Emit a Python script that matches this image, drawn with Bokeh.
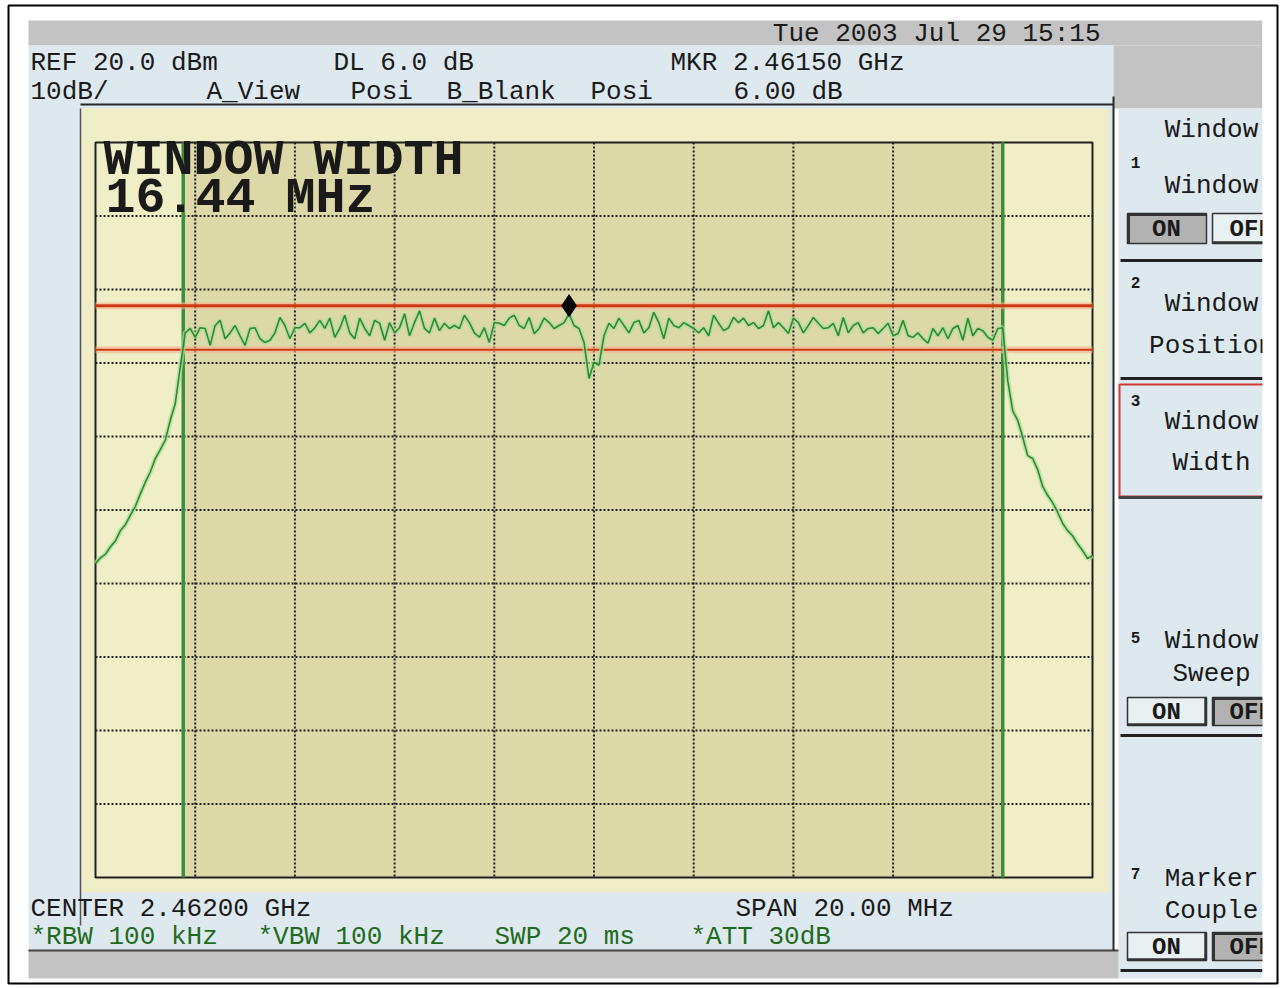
from bokeh.plotting import figure
from bokeh.models import Range1d
from bokeh.core.properties import value
from bokeh.embed import file_html
from bokeh.resources import INLINE

timestamp = "Tue 2003 Jul 29 15:15"
center_ghz = 2.46200
span_mhz = 20.00
ref_dbm = 20.0
db_per_div = 10
divisions = 10
display_line_dbm = -2.2
display_line_offset_db = 6.0
marker_ghz = 2.46150
marker_dbm = -2.2
marker_delta_db = 6.00
window_center_ghz = 2.46198
window_width_mhz = 16.44
rbw_khz = 100
vbw_khz = 100
sweep_ms = 20
atten_db = 30
trace_step_mhz = 0.1
trace_dbm = [
    -37.3, -36.5, -36.0, -35.0, -34.2, -32.8, -32.0, -30.7, -29.5, -27.8,
    -26.2, -24.8, -23.0, -21.8, -20.5, -17.8, -15.5, -10.6,
    -5.9, -5.3, -6.5, -5.2, -5.3, -7.6, -4.9, -4.2, -6.7, -5.9, -4.9, -6.3,
    -7.6, -5.3, -5.2, -6.7, -7.2, -6.9, -5.9, -3.8, -4.9, -6.7, -5.2, -5.2,
    -4.6, -5.9, -5.2, -4.2, -5.3, -3.9, -6.5, -5.3, -3.5, -5.9, -6.7, -3.9,
    -5.3, -6.3, -4.2, -4.6, -6.9, -4.5, -5.9, -5.2, -3.3, -6.3, -4.5, -2.9,
    -5.3, -5.9, -3.9, -5.6, -4.6, -5.3, -4.9,
    -5.3, -3.5, -4.5, -5.9, -6.5, -5.2, -7.2, -4.5, -4.6, -4.9, -3.9, -3.5,
    -4.9, -5.3, -3.8, -6.0, -5.3, -3.9, -4.5, -5.3, -4.9, -4.5, -3.3, -4.9,
    -5.3, -7.2, -12.1, -9.9, -10.3, -6.3, -4.6, -5.3, -3.9, -4.9, -5.9, -4.5,
    -4.2, -5.9, -5.2, -3.1, -4.5, -6.7, -3.9, -4.9, -5.2, -4.5, -4.9, -5.3,
    -5.9, -5.2, -6.3, -3.5, -4.6, -5.6,
    -5.2, -3.8, -4.5, -3.9, -4.9, -4.5, -5.3, -4.9, -2.9, -5.2, -4.5, -5.2,
    -6.0, -3.9, -4.5, -5.9, -4.9, -3.8, -4.6, -5.3, -5.2, -4.6, -6.3, -3.8,
    -5.9, -4.9, -4.5, -5.9, -5.3, -5.2, -6.0, -5.3, -4.6, -6.3, -6.0, -4.2,
    -6.3, -6.5, -5.9, -6.7, -7.3, -5.3, -6.3, -5.2, -6.7, -5.3, -4.9, -6.9,
    -3.9, -6.3, -5.3, -5.6, -6.5, -6.9, -5.3,
    -5.2, -12.4, -16.5, -17.8, -20.1, -22.6, -23.0, -24.5, -26.8, -28.0,
    -29.0, -30.3, -31.8, -32.8, -33.5, -34.6, -35.5, -36.6, -36.2,
]

# ---------------- layout (page pixels) ----------------
W, H = 1282, 986
X0, Y0 = 0, 0
GX0, GX1, GY0, GY1 = 95, 1092, 142, 877   # graticule box

span_ghz = span_mhz / 1000.0
f_start = center_ghz - span_ghz / 2
f_stop = center_ghz + span_ghz / 2
ghz_per_px = span_ghz / (GX1 - GX0)
bottom_dbm = ref_dbm - db_per_div * divisions
db_per_px = (db_per_div * divisions) / (GY1 - GY0)

p = figure(width=W, height=H, output_backend="svg", toolbar_location=None,
           x_range=Range1d(X0, X0 + W), y_range=Range1d(Y0 + H, Y0),
           x_axis_location=None, y_axis_location=None, min_border=0,
           background_fill_color="white", border_fill_color="white",
           outline_line_color=None, title=None)
p.xgrid.visible = False
p.ygrid.visible = False
p.extra_x_ranges = {"freq": Range1d(f_start - (GX0 - X0) * ghz_per_px,
                                    f_stop + (X0 + W - GX1) * ghz_per_px)}
p.extra_y_ranges = {"dbm": Range1d(bottom_dbm - (Y0 + H - GY1) * db_per_px,
                                   ref_dbm + (GY0 - Y0) * db_per_px)}
D = dict(x_range_name="freq", y_range_name="dbm")

GRAY = "#c3c3c3"
PANEL = "#dde9ee"
YEL = "#f0eec6"
YEL_WIN = "#ddd8a7"
INK = "#1a1a1a"
GREEN_TXT = "#1f6b1f"
MONO = value("Liberation Mono")


def box(l, r, t, b, color, **kw):
    p.quad(left=[l], right=[r], top=[t], bottom=[b], fill_color=color,
           line_color=None, **kw)


def hline(x0, x1, y, color="#222222", w=2):
    p.segment(x0=[x0], x1=[x1], y0=[y], y1=[y], line_color=color, line_width=w)


def vline(x, y0, y1, color="#222222", w=2):
    p.segment(x0=[x], x1=[x], y0=[y0], y1=[y1], line_color=color, line_width=w)


def txt(x, y, s, size=26, color=INK, align="left", style="normal"):
    p.text(x=[x], y=[y], text=[s], text_font=MONO, text_font_size=f"{size}px",
           text_color=color, text_align=align, text_baseline="middle",
           text_font_style=style)


# ---- screen panels ----
box(28, 1262, 20, 45, GRAY)
box(28, 1113, 45, 950, PANEL)
box(1113, 1262, 45, 108, GRAY)
box(1118, 1262, 108, 978, PANEL)
box(28, 1118, 950, 978, GRAY)
hline(28, 1118, 950, "#444444", 2)
box(80, 1108, 108, 892, YEL)
vline(80, 108, 925, "#555555", 1.5)
hline(80, 1113, 104, "#2a2a2a", 2)
vline(1113, 96, 950, "#2a2a2a", 2)

# ---- graticule ----
p.quad(left=[f_start], right=[f_stop], top=[ref_dbm], bottom=[bottom_dbm],
       fill_color=YEL, line_color=None, **D)
w_lo = window_center_ghz - window_width_mhz / 2000.0
w_hi = window_center_ghz + window_width_mhz / 2000.0
p.quad(left=[w_lo], right=[w_hi], top=[ref_dbm], bottom=[bottom_dbm],
       fill_color=YEL_WIN, line_color=None, **D)
vx = [f_start + k * span_ghz / divisions for k in range(1, divisions)]
p.segment(x0=vx, x1=vx, y0=[ref_dbm] * len(vx), y1=[bottom_dbm] * len(vx),
          line_color="#1e1e1e", line_width=2, line_dash="2 2", **D)
hy = [ref_dbm - k * db_per_div for k in range(1, divisions)]
p.segment(x0=[f_start] * len(hy), x1=[f_stop] * len(hy), y0=hy, y1=hy,
          line_color="#1e1e1e", line_width=2, line_dash="2 2", **D)
p.quad(left=[f_start], right=[f_stop], top=[ref_dbm], bottom=[bottom_dbm],
       fill_color=None, line_color="#202020", line_width=2, **D)

# window edges
p.segment(x0=[w_lo, w_hi], x1=[w_lo, w_hi], y0=[ref_dbm] * 2,
          y1=[bottom_dbm] * 2, line_color="#3d8d3d", line_width=3.5, **D)

# display lines
lower_dbm = display_line_dbm - display_line_offset_db
p.segment(x0=[f_start] * 2, x1=[f_stop] * 2, y0=[display_line_dbm, lower_dbm],
          y1=[display_line_dbm, lower_dbm], line_color="#f5b38f",
          line_width=7, line_alpha=0.6, **D)
p.segment(x0=[f_start], x1=[f_stop], y0=[display_line_dbm],
          y1=[display_line_dbm], line_color="#cc3a14", line_width=3, **D)
p.segment(x0=[f_start], x1=[f_stop], y0=[lower_dbm], y1=[lower_dbm],
          line_color="#cc3a14", line_width=1.8, **D)

# trace
freqs = [f_start + i * trace_step_mhz / 1000.0 for i in range(len(trace_dbm))]
p.line(freqs, trace_dbm, line_color="#a9dd9c", line_width=5, line_alpha=0.7, **D)
p.line(freqs, trace_dbm, line_color="#2e8a2e", line_width=1.6, **D)

# marker
p.scatter([marker_ghz], [marker_dbm], marker="diamond", size=22,
          fill_color="black", line_color="black", **D)

# ---- texts inside graticule ----
txt(103, 160, "WINDOW WIDTH", size=50, style="bold")
txt(105, 198, f"{window_width_mhz:.2f} MHz", size=50, style="bold")

# ---- header texts ----
txt(1100, 33, timestamp, align="right")
txt(30, 62, f"REF {ref_dbm:.1f} dBm")
txt(333, 62, f"DL {display_line_offset_db:.1f} dB")
txt(670, 62, f"MKR {marker_ghz:.5f} GHz")
txt(30, 91, f"{db_per_div}dB/")
txt(206, 91, "A_View")
txt(350, 91, "Posi")
txt(446, 91, "B_Blank")
txt(590, 91, "Posi")
txt(733, 91, f"{marker_delta_db:.2f} dB")

# ---- footer texts ----
txt(30, 908, f"CENTER {center_ghz:.5f} GHz")
txt(735, 908, f"SPAN {span_mhz:.2f} MHz")
txt(30, 936, f"*RBW {rbw_khz} kHz", color=GREEN_TXT)
txt(257, 936, f"*VBW {vbw_khz} kHz", color=GREEN_TXT)
txt(494, 936, f"SWP {sweep_ms} ms", color=GREEN_TXT)
txt(690, 936, f"*ATT {atten_db}dB", color=GREEN_TXT)

# ---- softkey panel ----
KX = 1211


def onoff(y0, y1, on_pressed):
    box(1127, 1206, y0, y1, "#b2b2b2" if on_pressed else "#e9f0f2")
    box(1212, 1290, y0, y1, "#e9f0f2" if on_pressed else "#b2b2b2")
    for (l, r, pressed) in ((1127, 1206, on_pressed), (1212, 1290, not on_pressed)):
        p.quad(left=[l], right=[r], top=[y0], bottom=[y1], fill_color=None,
               line_color="#333333", line_width=1.5)
        if pressed:
            hline(l, r, y0 + 1, "#333333", 3)
            vline(l + 1, y0, y1, "#333333", 3)
        else:
            hline(l, r, y1 - 1, "#333333", 2.5)
            vline(r - 1, y0, y1, "#333333", 2.5)
    txt(1166, (y0 + y1) / 2 + 1, "ON", size=24, align="center", style="bold")
    txt(1229, (y0 + y1) / 2 + 1, "OFF", size=24, style="bold")


def sep(y):
    hline(1120, 1262, y, "#222222", 3)


txt(KX, 129, "Window", align="center")
txt(1135, 162, "1", size=16, style="bold", align="center")
txt(KX, 185, "Window", align="center")
onoff(213, 243, True)
sep(260)
txt(1135, 282, "2", size=16, style="bold", align="center")
txt(KX, 303, "Window", align="center")
txt(KX, 345, "Position", align="center")
sep(378)
p.quad(left=[1119], right=[1275], top=[384], bottom=[496], fill_color=None,
       line_color="#d23a3a", line_width=2)
hline(1118, 1262, 497, "#444444", 3)
txt(1135, 400, "3", size=16, style="bold", align="center")
txt(KX, 421, "Window", align="center")
txt(KX, 462, "Width", align="center")
txt(1135, 637, "5", size=16, style="bold", align="center")
txt(KX, 640, "Window", align="center")
txt(KX, 673, "Sweep", align="center")
onoff(697, 725, False)
sep(735)
txt(1135, 873, "7", size=16, style="bold", align="center")
txt(KX, 878, "Marker", align="center")
txt(KX, 910, "Couple", align="center")
onoff(932, 960, False)
sep(970)

# clip the softkey panel at the screen edge
box(1262, 1282, 0, 986, "white")

# outer frame of the screenshot
p.quad(left=[8], right=[1277], top=[5], bottom=[983], fill_color=None,
       line_color="black", line_width=2)

open("out.html", "w").write(file_html(p, INLINE))
